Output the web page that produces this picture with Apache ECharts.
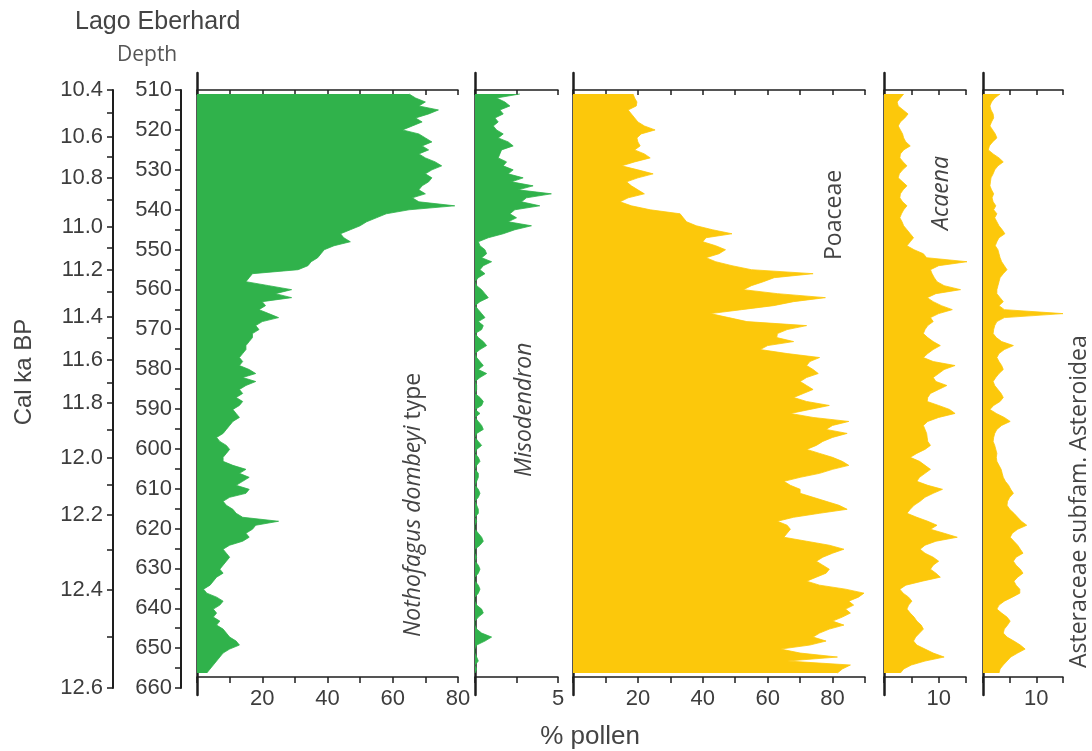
<!DOCTYPE html>
<html><head><meta charset="utf-8">
<script src="https://cdn.jsdelivr.net/npm/echarts@6/dist/echarts.min.js"></script>
<style>html,body{margin:0;padding:0;background:#fff}#c{width:1092px;height:751px}</style>
</head><body><div id="c"></div>
<script>
// ---- data (depth 511 .. 656, 1 cm steps) ----
const depthFirst = 511;
const depthAxisTicks = [510, 520, 530, 540, 550, 560, 570, 580, 590, 600, 610, 620, 630, 640, 650, 660];
const ageTickValues = [10.4,10.5,10.6,10.7,10.8,10.9,11.0,11.1,11.2,11.3,11.4,11.5,11.6,11.7,11.8,11.9,12.0,12.1,12.2,12.3,12.4,12.5,12.6];
const ageTickDepths = [510,515.8,521.8,526.8,532.1,537.6,544.4,549.6,555.1,560.7,566.9,572.2,577.7,583.5,588.5,595.3,602.3,609.1,616.6,625.4,635.4,647.2,660];
const ageLabelValues = [10.4,10.6,10.8,11.0,11.2,11.4,11.6,11.8,12.0,12.2,12.4,12.6];

const nothofagus = [
65,67,70,68,74,71,67,69,66,63,
68,70,72,69,71,68,70,73,75,72,
70,72,71,69,68,70,66,68,79,65,
58,55,52,50,47,44,45,47,42,39,
38,37,35,34,31,17,16,15,22,29,
24,29,20,21,19,22,25,20,18,19,
17,17,16,15,15,14,13,14,13,16,
18,14,18,15,13,14,12,14,13,11,
12,13,11,10,9,8,6,7,9,10,
9,8,8,11,15,13,16,14,12,16,
15,10,8,9,11,12,14,25,18,17,
15,16,14,10,8,9,10,9,8,7,
8,6,5,4,2,3,6,8,7,5,
6,5,7,6,8,9,10,12,13,10,
8,7,6,5,4,3];
const misodendron = [
2.7,1.3,1.8,2.1,1.5,1.7,1.2,1.4,1.1,1.3,
1.7,1.4,2.0,2.3,1.6,1.5,1.4,1.9,1.7,2.3,
2.0,2.9,2.2,3.5,2.6,4.6,3.1,2.8,3.9,2.4,
2.1,2.5,2.0,3.4,2.4,1.7,0.8,0.2,0.3,0.6,
0.7,0.4,1.0,0.5,0.3,0.6,0.2,0,0.1,0.4,
0.6,0.8,0.3,0,0.2,0.4,0.6,0.2,0.5,0.4,
0,0.2,0.5,0.7,0.3,0,0.1,0.3,0.5,0.2,
0.7,0.3,0,0.1,0.1,0,0.3,0.5,0.4,0,
0.3,0,0.2,0.4,0.5,0.1,0,0.2,0.4,0.1,
0,0.2,0.3,0.1,0,0.2,0.2,0.1,0,0.2,
0.3,0.2,0,0.1,0.2,0.2,0,0.1,0,0,
0.2,0.4,0.5,0.3,0,0,0.1,0,0.2,0.3,
0.2,0,0,0.2,0.3,0.2,0,0,0.1,0.4,
0.5,0.2,0,0,0.1,0.4,1.0,0.6,0.1,0,
0,0.1,0.2,0,0.1,0];
const poaceae = [
18.5,19,19.7,19.5,17,18,19,20,22,25.3,
21,19.7,20,20.7,19,22,23.8,19,15,20,
24.7,20,16.5,18,20,22,17,14.5,18,23.8,
33,34,35,38,43,49,41,40,44,47,
45,41,44,49,55,74,62,58.7,55,52.5,
63,77.8,68,61.8,52,42.3,48,53.6,72,66,
63,62.8,68,60,57.7,66,76,73,72,74,
75.6,72,70,72,74,71,68,72,79,73,
67,74,85,80,78,84.5,80,77,75,72,
76,80,83,85,80,76,70,65,67,70,
70,74,78,82,84.5,76,68,63,66,67,
66,65,72,79,83.5,80,77,75,77,79,
78,75,72,76,84,89.7,88,85,86.5,84,
85.5,83,80,83.5,79,76,74,78,73,64,
70,81.5,66,85.5,83,81.5];
const acaena = [
3.6,3.0,2.4,2.6,3.5,4.4,3.8,3.0,2.6,3.0,
3.4,3.6,4.0,4.8,3.6,3.0,2.9,3.5,4.2,3.4,
2.8,2.6,3.4,4.2,3.5,3.0,2.9,3.4,4.2,3.6,
3.2,2.9,3.3,3.6,4.2,4.8,5.4,4.8,4.2,5.5,
7.2,7.8,15.2,10,8.5,8.8,9.2,9.7,11,14,
9.5,7.9,9,10.5,12.5,10,8.5,9,8,7.5,
7.2,8,9,10.3,9,8,7.2,9,13,11,
10,9,9.5,11.5,10,8.5,8,7.9,10,12,
13,10,8,7.2,7.5,7.8,7.9,8,8.5,7.5,
6,4.8,6.5,7.5,8.5,7.5,6.5,6,8,10.7,
9,7.5,6.6,5.5,4.8,4.2,6,8,9.7,8.5,
11,13.4,9.5,7.5,6.6,7.5,9,10,9,8.5,
9.5,10.3,7,4,2.9,3.5,4.5,5.1,4.5,4.2,
4.8,5.5,6,6.8,7.2,6.5,5.8,5.4,6,7.5,
9,11,7.5,5,3.6,3];
const asteroideae = [
3.2,2.2,1.6,1.3,1.5,1.9,2.0,1.6,1.3,1.8,
2.3,2.6,1.8,1.2,1.0,1.9,3.0,3.8,2.8,2.2,
1.9,1.5,1.4,1.3,1.6,2.0,1.7,1.9,2.4,2.0,
2.6,2.2,2.6,3.0,3.6,4.1,3.0,2.6,2.3,2.8,
3.0,3.2,3.5,4.0,4.5,3.8,3.2,3.0,2.8,2.6,
2.6,3.2,3.8,3.0,4.0,15,4.0,2.6,2.2,2.0,
1.9,2.5,3.5,5.7,4.0,3.0,2.6,3.0,3.5,3.8,
3.0,2.4,1.9,2.2,2.8,3.4,3.8,3.2,2.0,1.3,
2.5,4.0,5.1,3.5,2.6,2.2,2.0,1.9,2.2,2.4,
2.6,2.5,2.6,3.0,3.4,3.6,3.8,4.2,4.8,5.2,
5.7,5.0,4.6,4.5,5.0,5.8,6.5,7.2,8.2,6.5,
5.5,5.1,5.8,6.5,7.0,7.5,6.2,5.7,6.2,7.0,
7.5,6.5,5.8,6.2,6.9,6.9,5.5,4.0,3.0,2.6,
3.5,4.5,5.1,4.6,4.0,3.8,4.5,5.8,7.0,7.9,
6.5,5.2,4.5,3.8,3.2,3.0];

const panelMax = [80, 5, 90, 15, 15];
const panelInterval = [10, 2.5, 10, 5, 5];
const panelTickLabels = [[20,40,60,80],[5],[20,40,60,80],[10],[10]];
const panelTitles = ['{i|Nothofagus dombeyi} type', '{i|Misodendron}', 'Poaceae', '{i|Acaena}', 'Asteraceae subfam. Asteroidea'];
const panelSeries = [nothofagus, misodendron, poaceae, acaena, asteroideae];

// ---- layout / style ----
const GREEN = '#30b24b', YELLOW = '#fcc80b';
const panelColors = [GREEN, GREEN, YELLOW, YELLOW, YELLOW];
const panelLeft = [197, 475, 573, 884, 983];
const panelWidth = [261, 83, 292, 82, 80];
const titlePos = [[413,637],[524,477],[834,260],[941,230],[1079,668]];
const AX = '#1e1e1e', TXT = '#3d3d3d';
const FONT = 'Liberation Sans, Arial, sans-serif';

// depth categories (one step past each end so the panel frame spans 510..657)
const cats = [];
for (let d = depthFirst - 1; d <= depthFirst + nothofagus.length; d++) cats.push(String(d));
function toSeries(arr) { return [null].concat(arr).concat([null]); }

const grid = [], xAxis = [], yAxis = [], series = [];
// depth axis
grid.push({left:181, top:90, width:1, height:598});
xAxis.push({gridIndex:0, show:false, min:0, max:1});
yAxis.push({gridIndex:0, type:'value', inverse:true, min:510, max:660, interval:10, position:'left',
  axisLine:{show:true, lineStyle:{color:AX, width:2}},
  axisTick:{show:true, length:6, lineStyle:{color:AX, width:1.5}},
  minorTick:{show:true, splitNumber:2, length:6, lineStyle:{color:AX, width:1.5}},
  axisLabel:{show:true, margin:9, color:TXT, fontSize:22, fontFamily:FONT,
    formatter: v => depthAxisTicks.includes(v) ? String(v) : ''},
  splitLine:{show:false}});
// age axis
grid.push({left:113, top:90, width:1, height:598});
xAxis.push({gridIndex:1, show:false, min:0, max:1});
yAxis.push({gridIndex:1, type:'value', inverse:true, min:510, max:660, position:'left',
  axisLine:{show:true, lineStyle:{color:AX, width:2}},
  axisTick:{show:true, length:6, customValues: ageTickDepths, lineStyle:{color:AX, width:1.5}},
  axisLabel:{show:true, margin:10, color:TXT, fontSize:22, fontFamily:FONT,
    customValues: ageLabelValues.map(a => ageTickDepths[ageTickValues.indexOf(a)]),
    formatter: v => { const i = ageTickDepths.indexOf(v); return i >= 0 ? ageTickValues[i].toFixed(1) : ''; }},
  splitLine:{show:false}});

for (let p = 0; p < 5; p++) {
  const g = grid.length;
  grid.push({left:panelLeft[p], top:90, width:panelWidth[p], height:587});
  xAxis.push({gridIndex:g, type:'value', position:'top', min:0, max:panelMax[p], interval:panelInterval[p],
    axisLine:{show:true, onZero:false, lineStyle:{color:AX, width:1.5}},
    axisTick:{show:true, inside:true, length:5, lineStyle:{color:AX, width:1.5}},
    axisLabel:{show:false}, splitLine:{show:false}});
  const xb = xAxis.length;
  const labs = panelTickLabels[p];
  xAxis.push({gridIndex:g, type:'value', position:'bottom', min:0, max:panelMax[p], interval:panelInterval[p],
    axisLine:{show:true, onZero:false, lineStyle:{color:AX, width:1.5}},
    axisTick:{show:true, length:6, lineStyle:{color:AX, width:1.5}},
    axisLabel:{show:true, margin:11, color:TXT, fontSize:22, fontFamily:FONT, hideOverlap:false,
      formatter: v => labs.includes(v) ? String(v) : ''},
    splitLine:{show:false}});
  const yi = yAxis.length;
  yAxis.push({gridIndex:g, type:'category', inverse:true, boundaryGap:false, data:cats,
    axisLine:{show:false}, axisTick:{show:false}, axisLabel:{show:false}, splitLine:{show:false}});
  series.push({type:'line', xAxisIndex:xb, yAxisIndex:yi, data:toSeries(panelSeries[p]),
    symbol:'none', smooth:false, connectNulls:false, silent:true,
    lineStyle:{width:0.8, color:panelColors[p]},
    areaStyle:{color:panelColors[p], opacity:1}});
  // long left frame line of the panel
  const gl = grid.length;
  grid.push({left:panelLeft[p], top:73, width:panelWidth[p], height:622});
  xAxis.push({gridIndex:gl, show:false, min:0, max:1});
  yAxis.push({gridIndex:gl, type:'value', min:0, max:1, position:'left',
    axisLine:{show:true, lineStyle:{color:AX, width:2.5}}, axisTick:{show:false},
    axisLabel:{show:false}, splitLine:{show:false}});
}

const graphic = [
  {type:'text', left:75, top:10, style:{text:'Lago Eberhard', font:'25px ' + FONT, fill:'#444'}},
  {type:'text', left:117, top:45, style:{text:'Depth', font:'21px "Open Sans", sans-serif', fill:'#555'}},
  {type:'text', x:24, y:372, rotation:Math.PI/2, style:{text:'Cal ka BP', font:'24px ' + FONT, fill:'#444', align:'center', verticalAlign:'middle'}},
  {type:'text', x:590, y:737, style:{text:'% pollen', font:'26px ' + FONT, fill:'#444', align:'center', verticalAlign:'middle'}}
];
for (let p = 0; p < 5; p++) {
  graphic.push({type:'text', x:titlePos[p][0], y:titlePos[p][1], rotation:Math.PI/2,
    style:{text:panelTitles[p], font:'23px "Open Sans", sans-serif', fill:'#444', align:'left', verticalAlign:'middle',
      rich:{i:{fontStyle:'italic', fontSize:23, fontFamily:'Open Sans', fill:'#444'}}}});
}

const chart = echarts.init(document.getElementById('c'), null, {renderer:'canvas'});
chart.setOption({animation:false, backgroundColor:'#fff', grid, xAxis, yAxis, series, graphic});
</script>
</body></html>
